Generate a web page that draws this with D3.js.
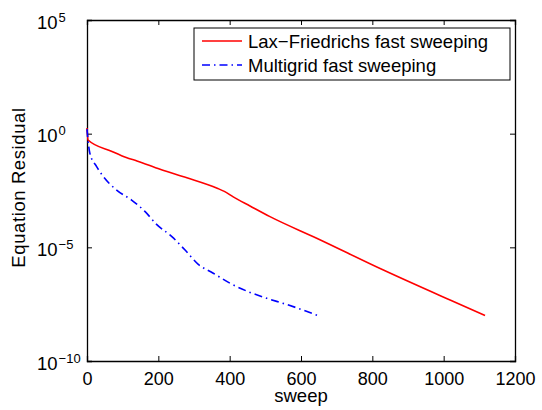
<!DOCTYPE html>
<html>
<head>
<meta charset="utf-8">
<script src="https://cdn.jsdelivr.net/npm/d3@7"></script>
<style>
  body { margin: 0; background: #fff; }
  svg { display: block; font-family: "Liberation Sans", Arial, Helvetica, sans-serif; }
  .tick text { font-size: 18px; fill: #000; }
</style>
</head>
<body>
<svg width="542" height="410"></svg>
<script>
const svg = d3.select("svg");
const width = +svg.attr("width");
const height = +svg.attr("height");

// data (residual as power of ten)
const laxSweep = [0, 3, 70, 110, 140, 205, 280, 365, 385, 410, 457, 513, 644, 831, 1018, 1116];
const laxExp = [0.25, -0.28, -0.78, -1.05, -1.2, -1.57, -1.94, -2.4, -2.54, -2.78, -3.18, -3.65, -4.6, -6.0, -7.32, -8.0];
const mgSweep = [0, 2, 8, 27, 46, 83, 125, 163, 195, 238, 275, 312, 354, 401, 452, 504, 555, 606, 650];
const mgExp = [0.2, -0.15, -0.86, -1.45, -1.89, -2.48, -2.92, -3.43, -3.99, -4.53, -5.12, -5.75, -6.14, -6.58, -6.95, -7.24, -7.49, -7.76, -8.02];

const xTicks = [0, 200, 400, 600, 800, 1000, 1200];
const yTickExp = [5, 0, -5, -10];
const seriesNames = ["Lax\u2212Friedrichs fast sweeping", "Multigrid fast sweeping"];

const margin = { top: 20, right: 27, bottom: 49, left: 87 };
const innerWidth = width - margin.left - margin.right;
const innerHeight = height - margin.top - margin.bottom;

const xScale = d3.scaleLinear().domain([0, 1200]).range([0, innerWidth]);
const yScale = d3.scaleLog().domain([1e-10, 1e5]).range([innerHeight, 0]);

const g = svg.append("g")
  .attr("transform", `translate(${margin.left},${margin.top})`);

// axes, box style with inward ticks
const xAxis = d3.axisBottom(xScale).tickValues(xTicks).tickSize(-5).tickPadding(11).tickFormat(d3.format("d"));
const xAxisG = g.append("g").attr("transform", `translate(0,${innerHeight})`).call(xAxis);
const xTopG = g.append("g").call(d3.axisTop(xScale).tickValues(xTicks).tickSize(-5).tickFormat(""));

const yTicks = yTickExp.map((e) => Math.pow(10, e));
const yAxisG = g.append("g").call(d3.axisLeft(yScale).tickValues(yTicks).tickSize(-5).tickFormat(""));
const yRightG = g.append("g").attr("transform", `translate(${innerWidth},0)`)
  .call(d3.axisRight(yScale).tickValues(yTicks).tickSize(-5).tickFormat(""));

[xAxisG, xTopG, yAxisG, yRightG].forEach((a) => {
  a.select(".domain").attr("stroke", "#000").attr("stroke-width", 1.3);
  a.selectAll(".tick line").attr("stroke", "#000");
});

// y tick labels 10^n
yAxisG.selectAll(".tick").each(function (d) {
  const e = Math.round(Math.log10(d));
  const t = d3.select(this).append("text")
    .attr("x", -50).attr("y", 8)
    .attr("text-anchor", "start")
    .style("font-size", "18.5px").attr("fill", "#000");
  t.append("tspan").text("10");
  t.append("tspan").attr("dy", -7).attr("dx", 1).style("font-size", "13px")
    .text(e < 0 ? "\u2212" + Math.abs(e) : e);
});

// lines
const line = d3.line()
  .curve(d3.curveMonotoneX)
  .x((d) => xScale(d[0]))
  .y((d) => yScale(Math.pow(10, d[1])));

const laxData = laxSweep.map((s, i) => [s, laxExp[i]]);
const mgData = mgSweep.map((s, i) => [s, mgExp[i]]);

g.append("path").datum(laxData)
  .attr("fill", "none").attr("stroke", "#ff0000").attr("stroke-width", 1.6)
  .attr("d", line);
g.append("path").datum(mgData)
  .attr("fill", "none").attr("stroke", "#0000ff").attr("stroke-width", 1.6)
  .attr("stroke-dasharray", "8,4,1.5,4")
  .attr("d", line);

// axis titles
svg.append("text").text("sweep")
  .attr("x", margin.left + xScale(600)).attr("y", 402)
  .attr("text-anchor", "middle").style("font-size", "18.5px");
svg.append("text").text("Equation Residual")
  .attr("transform", "translate(25,187.5) rotate(-90)")
  .attr("text-anchor", "middle").style("font-size", "18.5px")
  .style("letter-spacing", "0.6px");

// legend
const legend = svg.append("g").attr("transform", "translate(194,28)");
legend.append("rect").attr("width", 316).attr("height", 52)
  .attr("fill", "#fff").attr("stroke", "#000").attr("stroke-width", 1);
const legColors = ["#ff0000", "#0000ff"];
const legDash = [null, "8,4,1.5,4"];
seriesNames.forEach((name, i) => {
  const y = 13 + i * 24;
  legend.append("line").attr("x1", 8).attr("x2", 48).attr("y1", y).attr("y2", y)
    .attr("stroke", legColors[i]).attr("stroke-width", 1.6)
    .attr("stroke-dasharray", legDash[i]);
  legend.append("text").text(name)
    .attr("x", 54).attr("y", y + 7).style("font-size", "18.5px");
});
</script>
</body>
</html>
